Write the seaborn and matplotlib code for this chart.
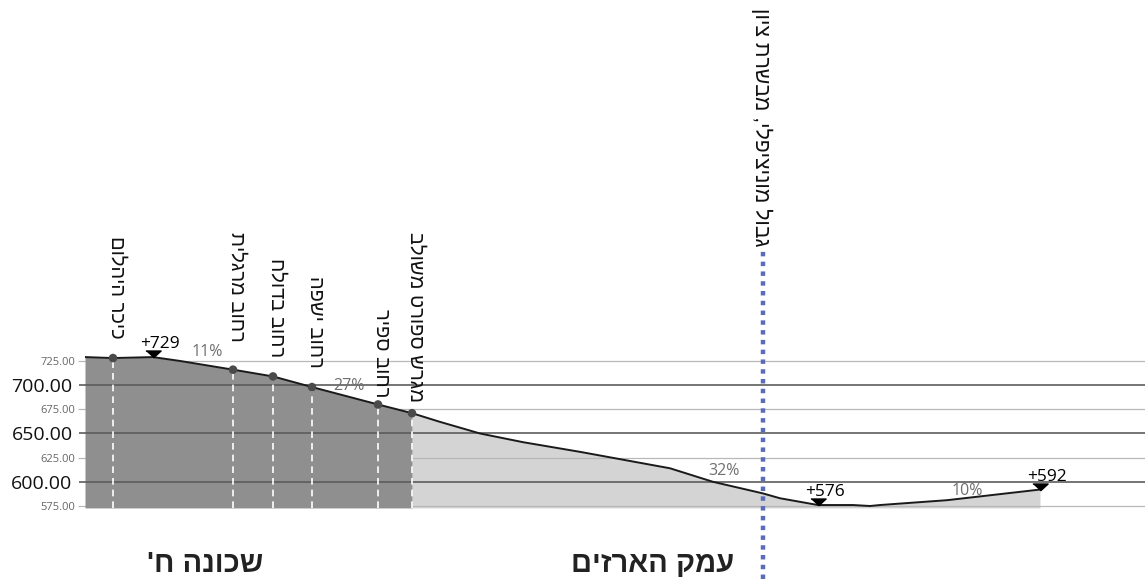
import matplotlib
matplotlib.use("Agg")
import matplotlib.pyplot as plt
import matplotlib.transforms as mtransforms
import seaborn as sns

# --- profile along the section (distance, elevation in m) ---
dist = [0, 28, 68, 95, 148, 188, 227, 293, 327, 355, 395, 438, 495, 585,
        628, 678, 695, 733, 768, 785, 795, 862, 955]
elev = [729, 728, 729, 725, 716, 709, 698, 680, 671, 662, 650, 641, 631, 614,
        600, 588, 583, 576, 576, 575, 576, 581, 592]
split_dist = 327  # end of the built-up neighbourhood

# --- points of interest on the ridge ---
poi_dist = [28, 148, 188, 227, 293, 327]
poi_elev = [728, 716, 709, 698, 680, 671]
poi_names = ["כיכר היהלום", "רחוב מרגלית", "רחוב בדולח", "רחוב ישפה",
             "רחוב ספיר", "מגרש ספורט משולב"]

# --- spot heights ---
spot_dist = [68, 733, 955]
spot_elev = [729, 576, 592]
spot_text = ["+729", "+576", "+592"]

# --- slopes ---
slope_dist = [122, 264, 639, 882]
slope_elev = [734, 699, 611, 590.5]
slope_text = ["11%", "27%", "32%", "10%"]

border_dist = 678
border_text = "גבול מוניציפלי, מבשרת ציון"

area_dist = [120, 568]
area_text = ["שכונה ח'", "עמק הארזים"]

major_ticks = [600, 650, 700]
minor_ticks = [575, 625, 675, 725]
base = 573

HEB = ["Liberation Sans", "DejaVu Sans"]


def vis(s):
    # matplotlib has no bidi support -> feed hebrew in visual order
    return s[::-1]


sns.set_style("white")
plt.rcParams["font.family"] = ["Open Sans", "DejaVu Sans"]

fig = plt.figure(figsize=(11.45, 5.79), dpi=100)
ax = fig.add_axes([85 / 1145, 0, 1060 / 1145, 1])
ax.set_xlim(0, 1060)
ax.set_ylim(499.5, 1098.3)

# fills
left = [(d, e) for d, e in zip(dist, elev) if d <= split_dist]
right = [(d, e) for d, e in zip(dist, elev) if d >= split_dist]
ax.fill_between([p[0] for p in left], base, [p[1] for p in left],
                color="#8f8f8f", lw=0, zorder=1.8)
ax.fill_between([p[0] for p in right], base, [p[1] for p in right],
                color="#d4d4d4", lw=0, zorder=1)

# grid lines
for t in major_ticks:
    ax.axhline(t, color="#5c5c5c", lw=1.2, zorder=2)
for t in minor_ticks:
    ax.axhline(t, color="#b8b8b8", lw=0.9, zorder=1.5)

# profile line
sns.lineplot(x=dist, y=elev, color="#1a1a1a", lw=1.4, ax=ax, zorder=4,
             sort=False)

# dashed markers under points of interest
ax.vlines(poi_dist, base, poi_elev, colors="white", linestyles=(0, (4, 3)),
          lw=1.2, zorder=3)
sns.scatterplot(x=poi_dist, y=poi_elev, color="#4a4a4a", s=38,
                edgecolor="none", ax=ax, zorder=5)

# labels of points of interest
gaps = [19, 28, 19, 19, 7, 11]
for d, e, name, g in zip(poi_dist, poi_elev, poi_names, gaps):
    tr = mtransforms.offset_copy(ax.transData, fig=fig, x=4, y=g, units="dots")
    ax.text(d, e, vis(name), rotation=-90, ha="center", va="bottom",
            fontsize=14.5, family=HEB, color="#111111", transform=tr)

# spot heights
tri = [(-1.2, 0.55), (1.2, 0.55), (0, -0.55)]
tr_tri = mtransforms.offset_copy(ax.transData, fig=fig, y=3, units="dots")
ax.scatter(spot_dist, spot_elev, marker=tri, s=120, color="black",
           transform=tr_tri, zorder=6)
tr_txt = mtransforms.offset_copy(ax.transData, fig=fig, x=7, y=5, units="dots")
for d, e, t in zip(spot_dist, spot_elev, spot_text):
    ax.text(d, e, t, ha="center", va="bottom", fontsize=12.5, color="black",
            transform=tr_txt)

# slopes
for d, e, t in zip(slope_dist, slope_elev, slope_text):
    ax.text(d, e, t, ha="center", va="center", fontsize=11.5, color="#707070")

# municipal border
ax.axvline(border_dist, ymin=0, ymax=(579 - 250) / 579, color="#5a6bb8",
           lw=3.2, linestyle=(0, (1, 1.2)), zorder=7)
tr_b = mtransforms.offset_copy(ax.transData, fig=fig, x=-1, y=3, units="dots")
ax.text(border_dist, 840, vis(border_text), rotation=-90, ha="center",
        va="bottom", fontsize=15.2, family=HEB, color="#111111", transform=tr_b)

# area names
for d, t in zip(area_dist, area_text):
    ax.text(d, 515, vis(t), ha="center", va="center", fontsize=21,
            family=HEB, fontweight="bold", color="#222222")

# y axis
ax.set_yticks(major_ticks)
ax.set_yticklabels([f"{t:.2f}" for t in major_ticks], fontsize=14,
                   color="#111111")
ax.set_yticks(minor_ticks, minor=True)
ax.set_yticklabels([f"{t:.2f}" for t in minor_ticks], minor=True,
                   fontsize=8, color="#666666")
ax.tick_params(axis="y", which="major", left=True, length=4, width=1.2,
               color="#5c5c5c", pad=5)
ax.tick_params(axis="y", which="minor", left=True, length=5, width=0.9,
               color="#b8b8b8", pad=2)
ax.set_xticks([])
ax.set_xlabel("")
ax.set_ylabel("")
for s in ax.spines.values():
    s.set_visible(False)

fig.savefig("out.png", dpi=100)
